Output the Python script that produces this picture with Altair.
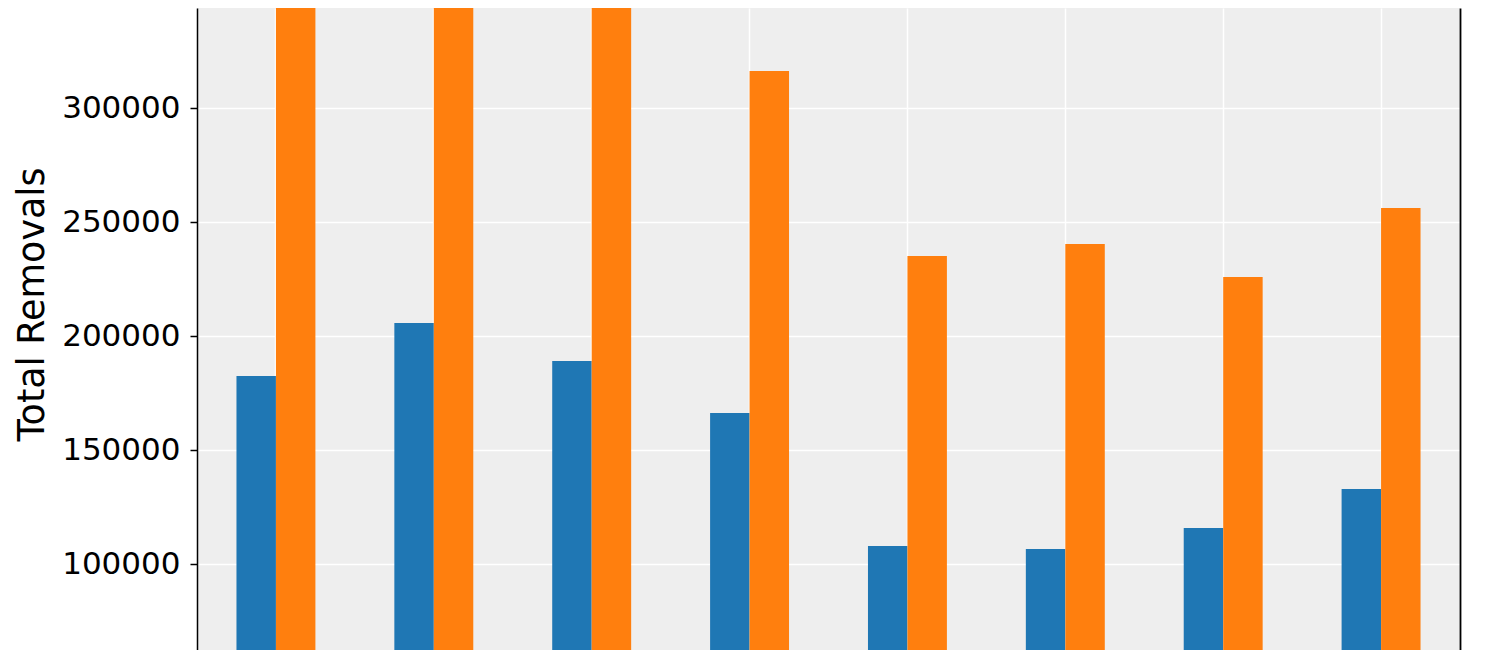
import altair as alt
import pandas as pd

groups = ["G1", "G2", "G3", "G4", "G5", "G6", "G7", "G8"]
series = ["Series A", "Series B"]
blue_values = [182500, 205700, 189000, 166200, 107900, 106600, 115800, 132900]
orange_values = [362000, 372000, 366000, 316200, 235100, 240400, 225900, 256100]
y_ticks = [100000, 150000, 200000, 250000, 300000, 350000]

rows = []
for g, b, o in zip(groups, blue_values, orange_values):
    rows.append({"group": g, "series": series[0], "value": b})
    rows.append({"group": g, "series": series[1], "value": o})
df = pd.DataFrame(rows)

y_domain = [62281, 343860]

x_enc = alt.X(
    "group:N",
    sort=groups,
    scale=alt.Scale(paddingInner=0.5, paddingOuter=0.25),
    axis=alt.Axis(title=None, labels=False, ticks=False, domain=False, grid=True,
                  gridColor="white", gridWidth=1.5, bandPosition=0.5),
)
xo_enc = alt.XOffset("series:N", sort=series, scale=alt.Scale(paddingInner=0, paddingOuter=0))
color_enc = alt.Color("series:N", scale=alt.Scale(domain=series, range=["#1f77b4", "#ff7f0e"]), legend=None)

bars = alt.Chart(df).mark_bar(clip=True).encode(
    x=x_enc,
    xOffset=xo_enc,
    y=alt.Y("value:Q",
            scale=alt.Scale(domain=y_domain, nice=False, zero=False),
            axis=alt.Axis(title="Total Removals", values=y_ticks, format="d",
                          grid=True, gridColor="white", gridWidth=1.5,
                          titleX=-154, titleY=296, titleAngle=270,
                          titleAlign="center", titleBaseline="alphabetic")),
    color=color_enc,
)

right_spine = alt.Chart(df).mark_bar(clip=True, opacity=0).encode(
    x=x_enc,
    xOffset=xo_enc,
    y=alt.Y("value:Q",
            scale=alt.Scale(domain=y_domain, nice=False, zero=False),
            axis=alt.Axis(title=None, orient="right", labels=False, ticks=False,
                          grid=False, domain=True, domainColor="black", domainWidth=1.8)),
)

chart = alt.layer(bars, right_spine).resolve_axis(y="independent").properties(
    width=1263,
    height=642,
    autosize=alt.AutoSizeParams(type="none"),
    padding={"left": 189, "top": 0, "right": 32, "bottom": 0},
).configure_view(
    fill="#EEEEEE", stroke=None
).configure_axis(
    labelFont="DejaVu Sans", labelFontSize=31, labelColor="black", labelPadding=10,
    tickColor="black", tickSize=7, tickWidth=1.5,
    domainColor="black", domainWidth=1.5,
    titleFont="DejaVu Sans", titleFontSize=36.5, titleFontWeight="normal", titleColor="black",
)

chart.save("out.html", embed_options={"renderer": "svg", "actions": False})
